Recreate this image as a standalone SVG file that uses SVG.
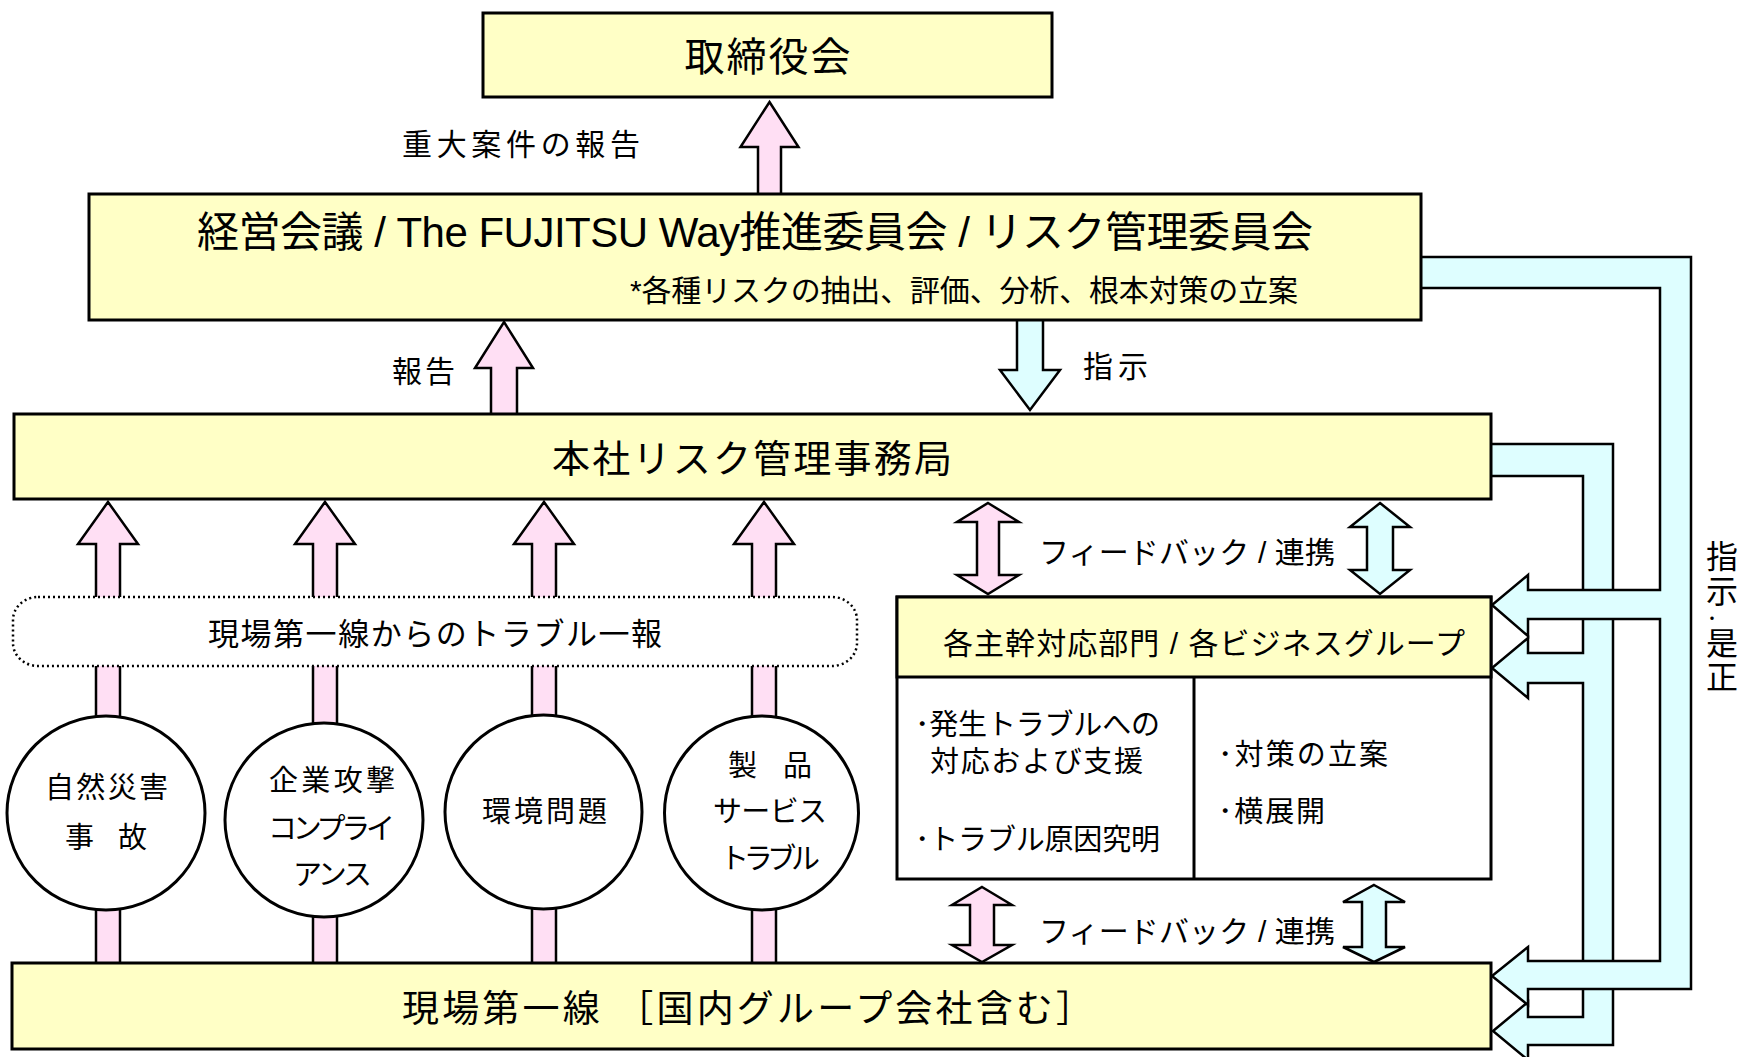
<svg xmlns="http://www.w3.org/2000/svg" width="1738" height="1057" viewBox="0 0 1738 1057">
<defs>
<style>
.box{fill:#FFFFC6;stroke:#000;stroke-width:3}
.wbox{fill:#FFFFFF;stroke:#000;stroke-width:3}
.pink{fill:#FFDFF4;stroke:#000;stroke-width:2.5;stroke-linejoin:miter}
.cyan{fill:#DEFEFF;stroke:#000;stroke-width:2.5;stroke-linejoin:miter}
.dot{fill:#FFFFFF;stroke:#000;stroke-width:2.5;stroke-dasharray:2 3}
.t{font-family:"Liberation Sans","Noto Sans CJK JP",sans-serif;fill:#000;dominant-baseline:central}
.m{text-anchor:middle}
</style>
<path id="colArrow" d="M0,502 L30,544 L12,544 L12,966 L-12,966 L-12,544 L-30,544 Z"/>
</defs>
<rect width="1738" height="1057" fill="#FFFFFF"/>
<g id="connectors">
  <path class="pink" d="M769.5,102 L798.5,147 L781,147 L781,196 L758,196 L758,147 L740.5,147 Z"/>
  <path class="pink" d="M504,322 L533,368 L517,368 L517,416 L491,416 L491,368 L475,368 Z"/>
  <path class="cyan" d="M1017,318 L1043,318 L1043,370 L1060,370 L1030,410 L1000,370 L1017,370 Z"/>
  <use href="#colArrow" x="108" class="pink"/>
  <use href="#colArrow" x="325" class="pink"/>
  <use href="#colArrow" x="544" class="pink"/>
  <use href="#colArrow" x="764" class="pink"/>
  <path class="pink" d="M988,503 L1019,522 L999,522 L999,575 L1019,575 L988,594 L957,575 L977,575 L977,522 L957,522 Z"/>
  <path class="cyan" d="M1380,503 L1410,527 L1393,527 L1393,570 L1410,570 L1380,594 L1350,570 L1367,570 L1367,527 L1350,527 Z"/>
  <path class="pink" d="M982,887 L1012,905 L994,905 L994,945 L1012,945 L982,962 L952,945 L970,945 L970,905 L952,905 Z"/>
  <path class="cyan" d="M1374,885 L1405,902 L1386,902 L1386,947 L1405,947 L1374,962 L1343,947 L1362,947 L1362,902 L1343,902 Z"/>
  <path id="band-hq" class="cyan" d="M1486,444 L1613,444 L1613,1045 L1528,1045 L1528,1060 L1493,1031 L1528,1002 L1528,1017 L1583,1017 L1583,683 L1528,683 L1528,698 L1492,668 L1528,638 L1528,653 L1583,653 L1583,476 L1486,476 Z"/>
  <path id="band-mgmt" class="cyan" d="M1416,257 L1691,257 L1691,989 L1528,989 L1528,1005 L1492,976 L1528,947 L1528,961 L1660,961 L1660,619 L1528,619 L1528,636 L1492,605 L1528,575 L1528,590 L1660,590 L1660,288 L1416,288 Z"/>
  <text class="t" x="402" y="144" font-size="30" textLength="238" lengthAdjust="spacing">重大案件の報告</text>
  <text class="t" x="392" y="371" font-size="30" textLength="63" lengthAdjust="spacing">報告</text>
  <text class="t" x="1083" y="366" font-size="30" textLength="65" lengthAdjust="spacing">指示</text>
  <text class="t" x="1039" y="552" font-size="30" textLength="296" lengthAdjust="spacing">フィードバック / 連携</text>
  <text class="t" x="1039" y="931" font-size="30" textLength="296" lengthAdjust="spacing">フィードバック / 連携</text>
  <g id="vlabel">
    <text class="t" x="1706" y="557" font-size="32">指</text>
    <text class="t" x="1706" y="592" font-size="32">示</text>
    <text class="t" x="1704" y="618" font-size="16">・</text>
    <text class="t" x="1706" y="644" font-size="32">是</text>
    <text class="t" x="1706" y="678" font-size="32">正</text>
  </g>
</g>
<g id="nodes">
  <g id="n-board">
    <rect class="box" x="483" y="13" width="569" height="84"/>
    <text class="t m" x="767.5" y="57" font-size="40" textLength="166" lengthAdjust="spacing">取締役会</text>
  </g>
  <g id="n-mgmt">
    <rect class="box" x="89" y="194" width="1332" height="126"/>
    <text class="t" x="197" y="232" font-size="42" textLength="1116" lengthAdjust="spacing">経営会議 / The FUJITSU Way推進委員会 / リスク管理委員会</text>
    <text class="t" x="630" y="290" font-size="30" textLength="668" lengthAdjust="spacing">*各種リスクの抽出、評価、分析、根本対策の立案</text>
  </g>
  <g id="n-hq">
    <rect class="box" x="14" y="414" width="1477" height="85"/>
    <text class="t" x="552" y="459" font-size="38" textLength="400" lengthAdjust="spacing">本社リスク管理事務局</text>
  </g>
  <g id="n-report">
    <rect class="dot" x="13" y="597" width="844" height="69" rx="25" ry="23"/>
    <text class="t" x="208" y="634" font-size="31" textLength="454" lengthAdjust="spacing">現場第一線からのトラブル一報</text>
  </g>
  <g id="n-c1">
    <ellipse class="wbox" cx="106" cy="813" rx="99" ry="97"/>
    <text class="t m" x="106.5" y="788" font-size="29" textLength="123" lengthAdjust="spacing">自然災害</text>
    <text class="t m" x="106" y="838" font-size="29" textLength="82" lengthAdjust="spacing">事　故</text>
  </g>
  <g id="n-c2">
    <ellipse class="wbox" cx="324" cy="820" rx="99" ry="97"/>
    <text class="t m" x="332" y="781" font-size="29" textLength="126" lengthAdjust="spacing">企業攻撃</text>
    <text class="t m" x="331.5" y="829" font-size="29" textLength="127" lengthAdjust="spacing">コンプライ</text>
    <text class="t m" x="332.5" y="875" font-size="29" textLength="79" lengthAdjust="spacing">アンス</text>
  </g>
  <g id="n-c3">
    <ellipse class="wbox" cx="543.5" cy="812" rx="98.5" ry="97"/>
    <text class="t m" x="544.5" y="812" font-size="29" textLength="125" lengthAdjust="spacing">環境問題</text>
  </g>
  <g id="n-c4">
    <ellipse class="wbox" cx="761.5" cy="813" rx="97" ry="97"/>
    <text class="t m" x="770" y="766" font-size="29" textLength="84" lengthAdjust="spacing">製　品</text>
    <text class="t m" x="770" y="812" font-size="29" textLength="114" lengthAdjust="spacing">サービス</text>
    <text class="t m" x="770" y="859" font-size="29" textLength="100" lengthAdjust="spacing">トラブル</text>
  </g>
  <g id="n-dept">
    <rect class="wbox" x="897" y="597" width="594" height="282"/>
    <rect class="box" x="897" y="597" width="594" height="80"/>
    <line x1="1194" y1="677" x2="1194" y2="879" stroke="#000" stroke-width="3"/>
    <text class="t" x="943" y="643" font-size="30" textLength="522" lengthAdjust="spacing">各主幹対応部門 / 各ビジネスグループ</text>
    <text class="t" x="915" y="725" font-size="29" textLength="245" lengthAdjust="spacing">･発生トラブルへの</text>
    <text class="t" x="930" y="762" font-size="29" textLength="213" lengthAdjust="spacing">対応および支援</text>
    <text class="t" x="915" y="840" font-size="29" textLength="245" lengthAdjust="spacing">･トラブル原因究明</text>
    <text class="t" x="1218" y="755" font-size="29" textLength="170" lengthAdjust="spacing">･対策の立案</text>
    <text class="t" x="1218" y="812" font-size="29" textLength="107" lengthAdjust="spacing">･横展開</text>
  </g>
  <g id="n-field">
    <rect class="box" x="12" y="963" width="1479" height="86"/>
    <text class="t" x="402" y="1009" font-size="37" textLength="691" lengthAdjust="spacing">現場第一線 ［国内グループ会社含む］</text>
  </g>
</g>
</svg>
